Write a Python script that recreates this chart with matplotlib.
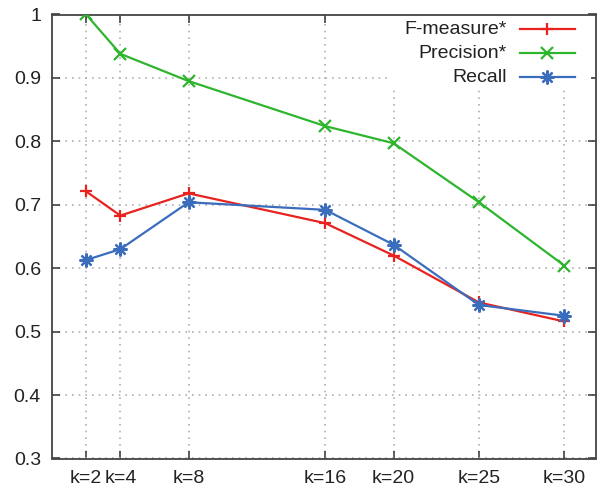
import matplotlib.pyplot as plt
from matplotlib.patches import Rectangle

plt.rcParams['font.family'] = ['Liberation Sans', 'DejaVu Sans']

# data
k = [2, 4, 8, 16, 20, 25, 30]
k_labels = ['k=2', 'k=4', 'k=8', 'k=16', 'k=20', 'k=25', 'k=30']
f_measure = [0.721, 0.683, 0.718, 0.671, 0.620, 0.546, 0.516]
precision = [1.0, 0.938, 0.895, 0.824, 0.797, 0.704, 0.604]
recall = [0.613, 0.630, 0.704, 0.692, 0.637, 0.542, 0.525]
y_ticks = [0.3, 0.4, 0.5, 0.6, 0.7, 0.8, 0.9, 1.0]
y_labels = ['0.3', '0.4', '0.5', '0.6', '0.7', '0.8', '0.9', '1']

red = '#e8231f'
green = '#2eb52e'
blue = '#3b6dbd'
star = (8, 2, 0)

fig = plt.figure(figsize=(5.97, 4.91), dpi=100)
ax = fig.add_axes([52 / 597, 32.5 / 491, 544 / 597, 444 / 491])

ax.plot(k, f_measure, color=red, lw=1.6, marker='+', ms=9, mew=1.6, zorder=3)
ax.plot(k, precision, color=green, lw=1.6, marker='x', ms=8, mew=1.6, zorder=3)
ax.plot(k, recall, color=blue, lw=1.6, marker=star, ms=10, mew=1.6, zorder=3)

ax.set_xlim(0, 31.85)
ax.set_ylim(0.3, 1.0)
ax.set_xticks(k)
ax.set_xticklabels(k_labels)
ax.set_yticks(y_ticks)
ax.set_yticklabels(y_labels)

ax.grid(True, color='#b0b0b0', linestyle=(0, (1, 3)), linewidth=1.2)
ax.set_axisbelow(True)
ax.tick_params(direction='in', length=6, width=1.1, top=True, right=True,
               labelsize=14, colors='#333333', labelcolor='#222222')
ax.tick_params(axis='y', pad=8)
ax.tick_params(axis='x', pad=8)
for s in ax.spines.values():
    s.set_color('#444444')
    s.set_linewidth(1.3)

# gnuplot style key, text right aligned, sample on the right
def px(x):
    return (x - 52) / 544

def py(y):
    return (458.5 - y) / 444

ax.add_patch(Rectangle((px(392), py(88)), px(591) - px(392), py(14) - py(88),
                       transform=ax.transAxes, facecolor='white', edgecolor='none', zorder=1))
key = [('F-measure*', red, '+', 9), ('Precision*', green, 'x', 8), ('Recall', blue, star, 10)]
for i, (name, c, m, size) in enumerate(key):
    yy = py(29 + 24 * i)
    ax.text(px(507), yy, name, transform=ax.transAxes, ha='right', va='center',
            fontsize=14, color='#222222', zorder=4)
    ax.plot([px(520), px(575)], [yy, yy], transform=ax.transAxes, color=c, lw=1.6,
            clip_on=False, zorder=4)
    ax.plot([px(547)], [yy], transform=ax.transAxes, color=c, marker=m, ms=size,
            mew=1.6, clip_on=False, zorder=4)

fig.savefig('out.png', dpi=100)
